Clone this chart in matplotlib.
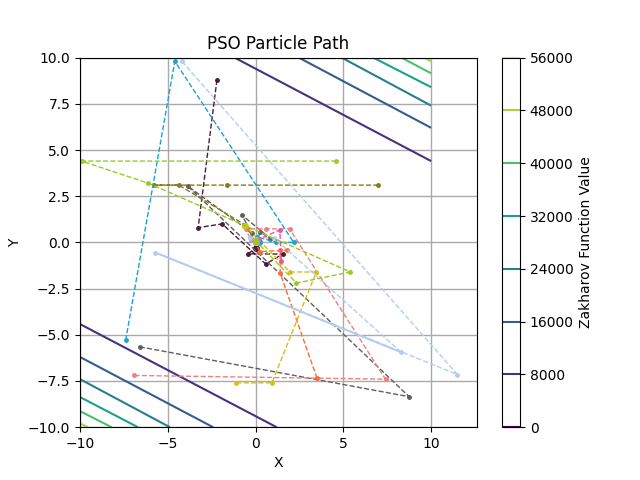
import matplotlib
matplotlib.use("Agg")
import matplotlib.pyplot as plt
from matplotlib.cm import ScalarMappable
from matplotlib.colors import Normalize

# contour levels and where each line enters/leaves the plot area
levels = [0, 8000, 16000, 24000, 32000, 40000, 48000, 56000]
upper_x = [[-1.2, 10], [2.46, 10], [4.9, 10], [6.7, 10], [8.3, 10], [9.6, 10]]
upper_y = [[10, 4.4], [10, 6.2], [10, 7.4], [10, 8.4], [10, 9.15], [10, 9.8]]
lower_x = [[-10, 1.2], [-10, -2.42], [-10, -4.88], [-10, -6.7], [-10, -8.2], [-10, -9.55]]
lower_y = [[-4.42, -10], [-6.2, -10], [-7.4, -10], [-8.37, -10], [-9.13, -10], [-9.8, -10]]

# particle paths
maroon_x = [-2.2, -3.27, -1.9, 0.58, 1.55, -0.43, 0.0]
maroon_y = [8.8, 0.8, 1.0, -1.17, -0.63, -0.62, -0.3]
grey_x = [-6.6, 8.75, -3.87, -0.23, -0.8, 0.85, 0.24, 0.1]
grey_y = [-5.65, -8.35, 3.05, 0.53, 1.5, 0.2, 0.58, 0.0]
salmon_x = [-6.9, 7.4, 1.94, 0.62, -0.56, -0.27, 0.0]
salmon_y = [-7.2, -7.4, 0.73, 0.73, 0.73, 0.13, 0.0]
olive_x = [7.0, -1.6, -5.8, -4.37, -0.6, 0.0]
olive_y = [3.1, 3.1, 3.1, 3.1, 0.95, 0.0]
orange_x = [3.5, 1.4, 1.4, 1.8, 0.24, 0.0]
orange_y = [-7.35, -1.66, -0.4, -0.42, -0.5, 0.0]
yellow_x = [-1.1, 0.93, 3.46, 1.95, -0.6]
yellow_y = [-7.6, -7.6, -1.6, -1.6, 0.9]
blue_x = [-7.4, -4.6, 2.17, 1.19, 0.08, 0.2]
blue_y = [-5.3, 9.8, 0.0, 0.0, 0.3, 0.0]
light_x = [-4.2, 11.5, -5.7, 8.3, 1.03, -0.33, 0.0]
light_y = [9.8, -7.15, -0.55, -5.95, 0.25, 0.25, 0.0]
pink_x = [1.47, 1.38, 0.18, 0.0]
pink_y = [-1.0, 0.67, 0.18, 0.1]
green_x = [4.6, -9.9, -6.1, 5.4, 2.33, 0.05]
green_y = [4.4, 4.4, 3.2, -1.6, -2.2, 0.05]

paths = [
    (maroon_x, maroon_y, "#4a1c3a"),
    (grey_x, grey_y, "#5f5f5f"),
    (salmon_x, salmon_y, "#f08080"),
    (olive_x, olive_y, "#8a7a1e"),
    (orange_x, orange_y, "#ff6b35"),
    (yellow_x, yellow_y, "#d4c01a"),
    (blue_x, blue_y, "#17a2d8"),
    (light_x, light_y, "#b3cdf0"),
    (pink_x, pink_y, "#f050a8"),
    (green_x, green_y, "#97cc1f"),
]

fig, ax = plt.subplots(figsize=(6.4, 4.8), dpi=100)
norm = Normalize(levels[0], levels[-1])
cmap = plt.get_cmap("viridis")
line_colors = [cmap(norm(v)) for v in levels]

# contours, one pair of lines per level
for i in range(len(upper_x)):
    ax.plot(upper_x[i], upper_y[i], color=line_colors[i + 1], lw=1.5, solid_capstyle="butt")
    ax.plot(lower_x[i], lower_y[i], color=line_colors[i + 1], lw=1.5, solid_capstyle="butt")

for px, py, col in paths:
    ax.plot(px, py, "--o", color=col, lw=1, ms=2.5)
    ax.plot(px[-1], py[-1], "o", color=col, ms=4)

# the light blue path runs over itself here and reads as one solid line
ax.plot(light_x[2:4], light_y[2:4], color="#b3cdf0", lw=1.4)

ax.set_xlim(-10, 12.6)
ax.set_ylim(-10, 10)
ax.set_xticks([-10, -5, 0, 5, 10])
ax.grid(True, color="#aaaaaa", lw=1)
ax.set_axisbelow(True)
ax.set_title("PSO Particle Path")
ax.set_xlabel("X")
ax.set_ylabel("Y")

# empty colorbar with only the level lines, like a line contour
sm = ScalarMappable(norm=norm, cmap=cmap)
cbar = fig.colorbar(sm, ax=ax, ticks=levels)
cbar.solids.set_visible(False)
cbar.add_lines(levels, line_colors, [1.5] * len(levels))
cbar.set_label("Zakharov Function Value")

fig.savefig("out.png", dpi=100)
